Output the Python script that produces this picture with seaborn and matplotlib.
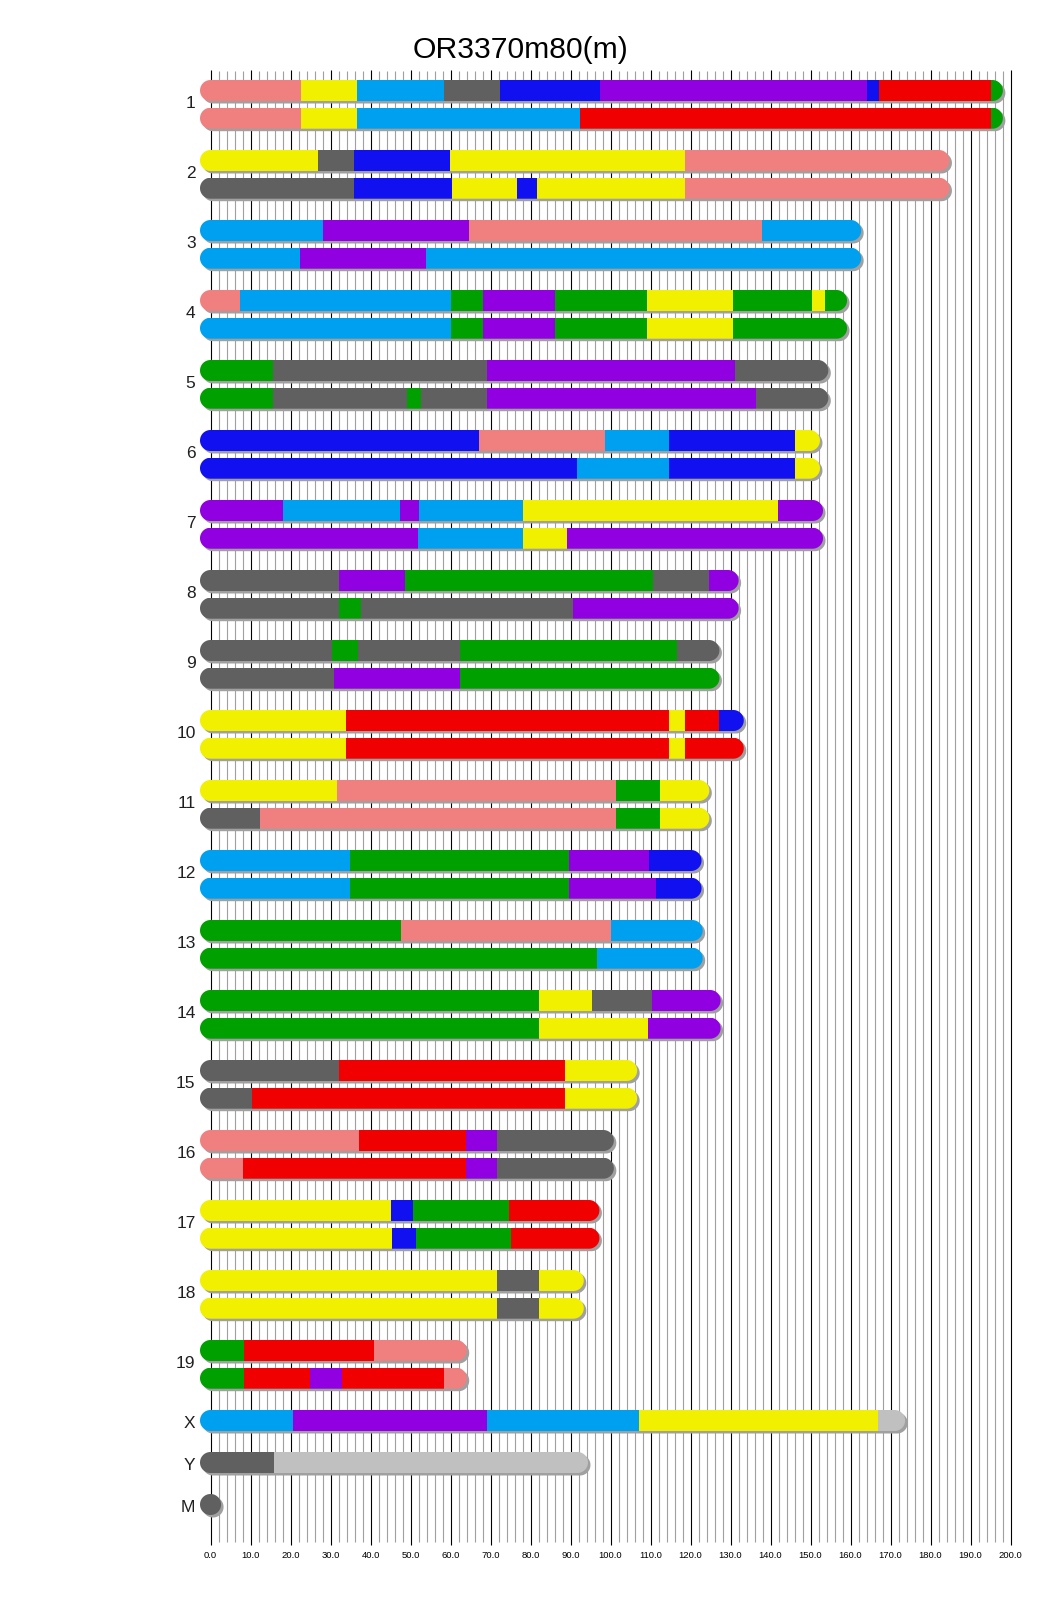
import numpy as np
import matplotlib
matplotlib.use("Agg")
import matplotlib.pyplot as plt
from matplotlib.patches import Polygon
import seaborn as sns

# ---------------- data ----------------
title = "OR3370m80(m)"
chrom_names = [str(i) for i in range(1, 20)] + ["X", "Y", "M"]
chrom_lengths = [195.47, 182.11, 160.04, 156.51, 151.83, 149.74, 150.5, 129.40,
                 124.60, 130.69, 122.08, 120.13, 120.42, 124.90, 104.04, 98.21,
                 94.6, 90.70, 61.43, 171.03, 91.74, 0.016]

# founder codes -> colours (A/J, B6, 129, NOD, NZO, CAST, PWK, WSB, unknown)
founder_codes = ["A", "B", "C", "D", "E", "F", "G", "H", "U"]
founder_hex = ["#f0f000", "#606060", "#f08080", "#1010f0", "#00a0f0",
               "#00a000", "#f00000", "#9000e0", "#c0c0c0"]

# haplotype 1: breakpoints (Mb) between consecutive founder blocks
hap1_breaks = {
    "1": [22.6, 36.6, 58.3, 72.4, 97.4, 164.2, 167.1, 195.1],
    "2": [26.9, 35.8, 59.8, 118.6],
    "3": [28.1, 64.7, 137.9],
    "4": [7.3, 60.1, 68.2, 86.2, 109.1, 130.6, 150.3, 153.7],
    "5": [15.7, 69.2, 131.2],
    "6": [67.0, 98.5, 114.7, 146.1],
    "7": [18.0, 47.4, 52.1, 78.1, 141.8],
    "8": [32.0, 48.7, 110.6, 124.7],
    "9": [30.4, 36.9, 62.4, 116.5],
    "10": [33.9, 114.6, 118.5, 127.1],
    "11": [31.5, 101.3, 112.3],
    "12": [34.8, 89.7, 109.5],
    "13": [47.7, 100.0],
    "14": [82.2, 95.4, 110.3],
    "15": [32.2, 88.6],
    "16": [37.1, 63.8, 71.7],
    "17": [45.2, 50.5, 74.7],
    "18": [71.6, 82.0],
    "19": [8.3, 40.8],
    "X": [20.5, 69.0, 107.0, 166.8],
    "Y": [15.8],
    "M": [],
}
hap1_founders = {
    "1": ["C", "A", "E", "B", "D", "H", "D", "G", "F"],
    "2": ["A", "B", "D", "A", "C"],
    "3": ["E", "H", "C", "E"],
    "4": ["C", "E", "F", "H", "F", "A", "F", "A", "F"],
    "5": ["F", "B", "H", "B"],
    "6": ["D", "C", "E", "D", "A"],
    "7": ["H", "E", "H", "E", "A", "H"],
    "8": ["B", "H", "F", "B", "H"],
    "9": ["B", "F", "B", "F", "B"],
    "10": ["A", "G", "A", "G", "D"],
    "11": ["A", "C", "F", "A"],
    "12": ["E", "F", "H", "D"],
    "13": ["F", "C", "E"],
    "14": ["F", "A", "B", "H"],
    "15": ["B", "G", "A"],
    "16": ["C", "G", "H", "B"],
    "17": ["A", "D", "F", "G"],
    "18": ["A", "B", "A"],
    "19": ["F", "G", "C"],
    "X": ["E", "H", "E", "A", "U"],
    "Y": ["B", "U"],
    "M": ["B"],
}
# haplotype 2 (autosomes only)
hap2_breaks = {
    "1": [22.6, 36.6, 92.3, 195.1],
    "2": [35.8, 60.3, 76.5, 81.7, 118.6],
    "3": [22.4, 53.9],
    "4": [60.1, 68.2, 86.2, 109.1, 130.6],
    "5": [15.7, 49.1, 52.6, 69.2, 136.3],
    "6": [91.5, 114.7, 146.1],
    "7": [51.8, 78.1, 89.2],
    "8": [32.0, 37.6, 90.5],
    "9": [30.8, 62.3],
    "10": [33.9, 114.6, 118.5],
    "11": [12.3, 101.3, 112.3],
    "12": [34.8, 89.7, 111.3],
    "13": [96.6],
    "14": [82.2, 109.3],
    "15": [10.25, 88.6],
    "16": [8.1, 63.8, 71.7],
    "17": [45.4, 51.3, 75.0],
    "18": [71.6, 82.0],
    "19": [8.3, 24.8, 32.8, 58.3],
}
hap2_founders = {
    "1": ["C", "A", "E", "G", "F"],
    "2": ["B", "D", "A", "D", "A", "C"],
    "3": ["E", "H", "E"],
    "4": ["E", "F", "H", "F", "A", "F"],
    "5": ["F", "B", "F", "B", "H", "B"],
    "6": ["D", "E", "D", "A"],
    "7": ["H", "E", "A", "H"],
    "8": ["B", "F", "B", "H"],
    "9": ["B", "H", "F"],
    "10": ["A", "G", "A", "G"],
    "11": ["B", "C", "F", "A"],
    "12": ["E", "F", "H", "D"],
    "13": ["F", "E"],
    "14": ["F", "A", "H"],
    "15": ["B", "G", "A"],
    "16": ["C", "G", "H", "B"],
    "17": ["A", "D", "F", "G"],
    "18": ["A", "B", "A"],
    "19": ["F", "G", "H", "G", "C"],
}

tick_values = list(range(0, 201, 10))
tick_labels = [f"{v:.1f}" for v in tick_values]
minor_values = [v for v in range(0, 201, 2) if v % 10 != 0]

# ---------------- style ----------------
sns.set_theme(style="white")
plt.rcParams["font.family"] = ["Liberation Sans", "DejaVu Sans"]
palette = dict(zip(founder_codes, sns.color_palette(founder_hex)))

W, H, DPI = 1040, 1616, 100
X0_PX = 210.5          # pixel of 0 Mb
PX_PER_MB = 4.0
BAR_H = 21.0
R_PX = BAR_H / 2
SHADOW = 2.5
HAP_GAP = 27.7
CHR_GAP = 70.0
TOP0 = 80.0

fig = plt.figure(figsize=(W / DPI, H / DPI), dpi=DPI)
ax = fig.add_axes([0, 0, 1, 1])
ax.set_xlim(-X0_PX / PX_PER_MB, (W - X0_PX) / PX_PER_MB)
ax.set_ylim(H, 0)
ax.axis("off")

# grid
ax.vlines(minor_values, 71, 1542, color="#a0a0a0", lw=0.8, zorder=1)
ax.vlines(tick_values, 70, 1545, color="black", lw=0.8, zorder=1)
for v, lab in zip(tick_values, tick_labels):
    ax.text(v, 1558, lab, ha="center", va="baseline", fontsize=6.8, color="black")

rx = R_PX / PX_PER_MB
tt = np.linspace(-np.pi / 2, np.pi / 2, 60)


def stadium(L, yc, dx=0.0, dy=0.0):
    xs = np.concatenate([L + rx * np.cos(tt), -rx * np.cos(tt)]) + dx
    ys = np.concatenate([yc + R_PX * np.sin(tt), yc - R_PX * np.sin(tt)]) + dy
    return np.column_stack([xs, ys])


def draw_bar(top, L, breaks, founders):
    yc = top + BAR_H / 2
    shadow = Polygon(stadium(L, yc, SHADOW / PX_PER_MB, SHADOW), closed=True,
                     facecolor="#a0a0a0", edgecolor="none", zorder=2)
    ax.add_patch(shadow)
    clip = Polygon(stadium(L, yc), closed=True, transform=ax.transData)
    starts = np.array([-rx - 1] + list(breaks))
    ends = np.array(list(breaks) + [L + rx + 1])
    cols = [palette[f] for f in founders]
    bars = ax.barh(np.full(len(starts), yc), ends - starts, left=starts,
                   height=BAR_H, color=cols, linewidth=0, zorder=3)
    for p in bars.patches:
        p.set_clip_path(clip)


for i, name in enumerate(chrom_names):
    L = chrom_lengths[i]
    if i < 19:
        top1 = TOP0 + CHR_GAP * i
        draw_bar(top1, L, hap1_breaks[name], hap1_founders[name])
        draw_bar(top1 + HAP_GAP, L, hap2_breaks[name], hap2_founders[name])
        label_y = top1 + (HAP_GAP + BAR_H) / 2 + 4
    else:
        top = TOP0 + CHR_GAP * 19 + 42.0 * (i - 19)
        draw_bar(top, L, hap1_breaks[name], hap1_founders[name])
        label_y = top + BAR_H / 2 + 7.5
    ax.text((195.5 - X0_PX) / PX_PER_MB, label_y, name, ha="right", va="baseline",
            fontsize=12.5, color="#202020")

fig.text(0.5, 1 - 58.5 / H, title, ha="center", va="baseline", fontsize=21.7,
         color="black")

fig.savefig("out.png", dpi=DPI)
